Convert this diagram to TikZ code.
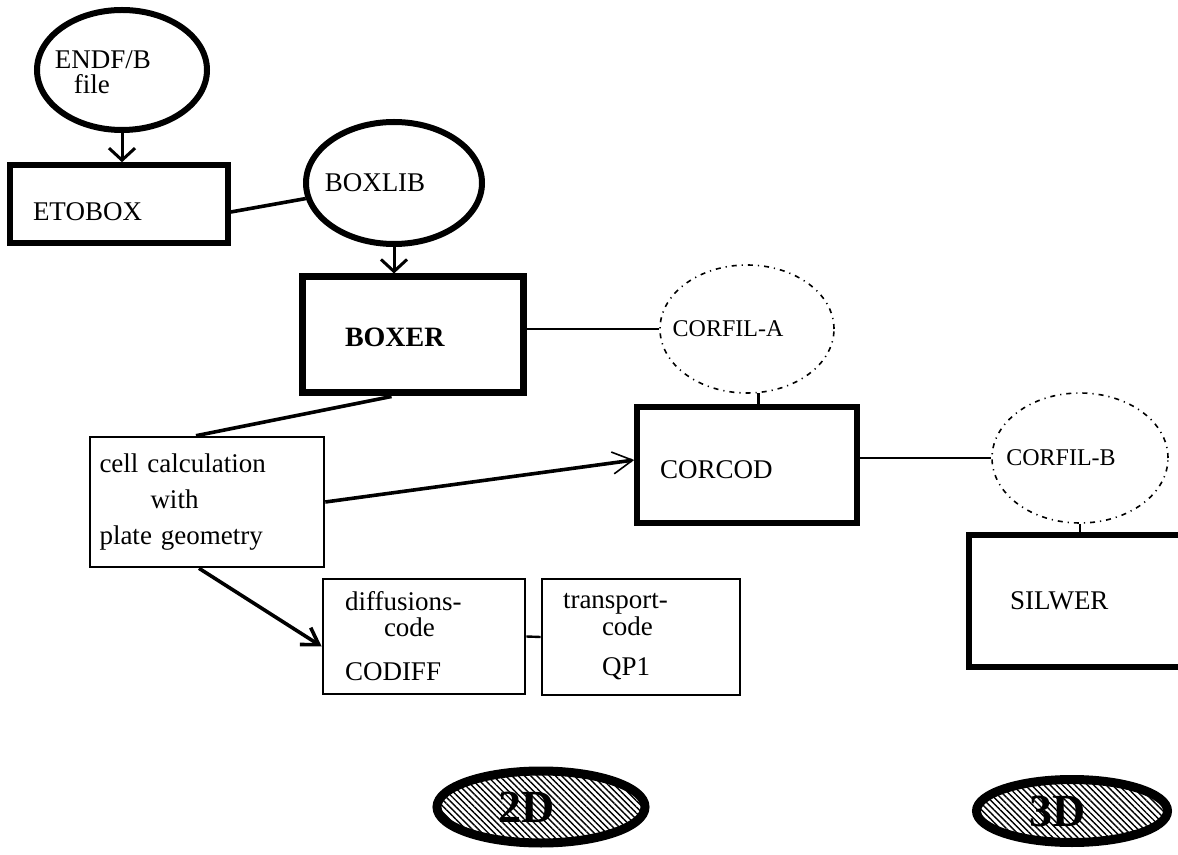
\documentclass[tikz,border=0pt]{standalone}
\usepackage{fontspec}
\setmainfont{Liberation Serif}
\usetikzlibrary{shapes.geometric,arrows.meta,patterns.meta}

\begin{document}
\begin{tikzpicture}[x=0.5pt,y=-0.5pt,txt/.style={font=\fontsize{13.5}{16}\selectfont},prog/.style={txt,draw=black,line width=2.8pt,align=left,inner ysep=0pt},progT/.style={prog,line width=1.3pt},store/.style={shape=ellipse,draw=black,line width=3pt,inner sep=0pt},storeD/.style={store,line width=0.8pt,dash pattern=on 2.5pt off 2.5pt on 0.6pt off 2.5pt},dim/.style={shape=ellipse,draw=black,line width=4.5pt,inner sep=0pt,pattern={Lines[angle=135,distance=2.2pt,line width=0.7pt]}},lbl/.style={txt,xshift=-9.5pt},lblS/.style={lbl,font=\fontsize{12}{14}\selectfont},lblD/.style={xshift=-7pt,font=\fontsize{23}{23}\selectfont\bfseries},link/.style={line width=1.2pt},flow/.style={line width=1.5pt,-{Straight Barb[length=6pt,width=13pt]}},flowL/.style={line width=1.8pt,-{Straight Barb[length=10pt,width=11pt,line width=0.8pt]}},flowD/.style={line width=1.8pt,-{Straight Barb[length=8pt,width=10pt]}}]

\useasboundingbox (0,0) rectangle (1178,855);

\node[store,minimum width=85pt,minimum height=60pt,label={[lbl,align=left,yshift=-1pt,font=\fontsize{13.5}{12.5}\selectfont]center:ENDF/B\\\hspace*{9.5pt}file}] (endf) at (122,70) {};
\node[store,minimum width=88pt,minimum height=61pt,label={[lbl]center:BOXLIB}] (boxlib) at (394,183) {};
\node[storeD,minimum width=87pt,minimum height=64pt,label={[lblS]center:CORFIL-A}] (corfila) at (747,329) {};
\node[storeD,minimum width=88pt,minimum height=65pt,label={[lblS]center:CORFIL-B}] (corfilb) at (1080,458) {};

\node[prog,minimum height=39pt,text width=86pt,inner xsep=11.5pt,text height=17pt,text depth=0pt] (etobox) at (119,204) {ETOBOX};
\node[prog,line width=3.5pt,font=\fontsize{14}{16}\selectfont\bfseries,minimum height=58pt,text width=67.5pt,inner xsep=21.5pt,text height=12pt,text depth=0pt] (boxer) at (412.5,335) {BOXER};
\node[prog,minimum height=58pt,text width=87pt,inner xsep=11.5pt,text height=14pt,text depth=0pt] (corcod) at (747,465) {CORCOD};
\node[prog,minimum height=66pt,text width=69pt,inner xsep=20.5pt] (silwer) at (1079,601) {SILWER};

\node[progT,minimum height=65pt,text width=107.5pt,inner xsep=4.75pt,font=\fontsize{13.5}{18}\selectfont] (cell) at (207,502) {cell calculation\\\hspace*{25.5pt}with\\plate geometry};
\node[progT,minimum height=57.5pt,text width=79pt,inner xsep=11pt,font=\fontsize{13.5}{13}\selectfont] (diff) at (424,636.5) {diffusions-\\\hspace*{19.5pt}code\\[9pt]CODIFF};
\node[progT,minimum height=58pt,text width=78pt,inner xsep=10.5pt,font=\fontsize{13.5}{13.5}\selectfont] (transp) at (641,637) {transport-\\\hspace*{19.5pt}code\\[6.5pt]\hspace*{19.5pt}QP1};

\node[dim,minimum width=104pt,minimum height=36pt,label={[lblD]center:2D}] (twod) at (541,807) {};
\node[dim,minimum width=95.5pt,minimum height=31.5pt,label={[lblD]center:3D}] (threed) at (1072,811) {};

\draw[flow] (endf.south) -- (endf.south |- etobox.north);
\draw[link,line width=1.8pt] ([yshift=-4pt]etobox.east) -- (boxlib.190);
\draw[flow] (boxlib.south) -- (boxlib.south |- boxer.north);
\draw[link] (boxer.east |- corfila.west) -- (corfila.west);
\draw[link,line width=1.6pt] (corfila.280) -- (corfila.280 |- corcod.north);
\draw[link] (corcod.east |- corfilb.west) -- (corfilb.west);
\draw[link] (corfilb.south) -- (corfilb.south |- silwer.north);
\draw[link,line width=1.8pt] ([xshift=-10.5pt]boxer.south) -- ([xshift=-5.5pt]cell.north);
\draw[flowL] (cell.east) -- ([yshift=2.5pt]corcod.west);
\draw[flowD] ([xshift=-4pt]cell.south) -- ([yshift=-5pt]diff.west);
\draw[link] (diff.east) -- (transp.west);
\end{tikzpicture}
\end{document}
